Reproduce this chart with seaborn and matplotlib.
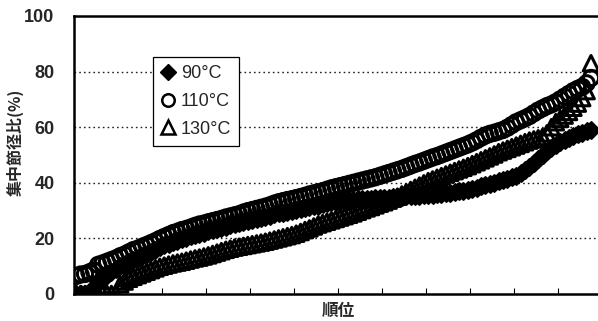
import numpy as np
import pandas as pd
import matplotlib
matplotlib.use("Agg")
import matplotlib.pyplot as plt
from matplotlib.lines import Line2D
import seaborn as sns

# ranked node-diameter ratios (%), sorted ascending for each drying temperature
temp_90 = [
    0, 0, 0, 0.5, 2.5, 4.5, 5.5, 6.8, 7.8, 9.0,
    10.0, 10.8, 11.6, 12.4, 13.0, 13.8, 14.5, 15.2, 16.0, 16.8,
    17.5, 18.0, 18.6, 19.2, 19.8, 20.3, 20.8, 21.3, 21.7, 22.1,
    22.5, 23.0, 23.4, 23.8, 24.2, 24.7, 25.1, 25.5, 25.9, 26.3,
    26.7, 27.0, 27.4, 27.8, 28.2, 28.6, 29.0, 29.3, 29.6, 29.9,
    30.3, 30.6, 30.9, 31.2, 31.5, 31.8, 32.2, 32.6, 33.0, 33.2,
    33.4, 33.6, 33.8, 33.9, 34.0, 34.1, 34.2, 34.3, 34.4, 34.5,
    34.6, 34.7, 34.8, 34.9, 35.0, 35.1, 35.2, 35.3, 35.4, 35.5,
    35.6, 35.7, 35.9, 36.1, 36.3, 36.4, 36.6, 36.9, 37.2, 37.5,
    37.9, 38.3, 38.7, 39.1, 39.5, 40.0, 40.5, 41.0, 41.5, 42.0,
    42.6, 43.4, 44.5, 45.8, 47.2, 48.6, 50.0, 51.4, 52.6, 53.7,
    54.6, 55.4, 56.2, 56.9, 57.5, 58.0, 58.6, 59.0,
]
temp_110 = [
    6.5, 7.0, 7.2, 7.8, 8.5, 10.5, 11.0, 11.6, 12.2, 12.8,
    13.6, 14.2, 15.0, 15.8, 16.3, 17.0, 17.6, 18.3, 19.0, 19.8,
    20.5, 21.2, 21.9, 22.4, 23.0, 23.4, 23.9, 24.5, 25.0, 25.3,
    25.8, 26.2, 26.6, 27.0, 27.5, 27.9, 28.3, 28.7, 29.3, 29.8,
    30.2, 30.6, 31.0, 31.4, 31.9, 32.5, 33.0, 33.4, 33.8, 34.1,
    34.5, 34.9, 35.3, 35.8, 36.2, 36.6, 37.0, 37.5, 38.0, 38.4,
    38.8, 39.2, 39.6, 40.0, 40.4, 40.8, 41.2, 41.6, 42.0, 42.5,
    43.0, 43.5, 44.0, 44.5, 45.0, 45.6, 46.2, 46.8, 47.3, 47.9,
    48.5, 49.1, 49.6, 50.2, 50.8, 51.4, 52.0, 52.6, 53.2, 53.8,
    54.5, 55.3, 56.2, 57.0, 57.6, 58.0, 58.5, 59.0, 59.8, 60.8,
    61.8, 62.5, 63.2, 64.0, 65.0, 66.0, 66.8, 67.6, 68.2, 69.0,
    70.0, 71.0, 72.0, 73.0, 73.8, 74.5, 75.8, 77.7,
]
temp_130 = [
    0, 0, 0, 0, 0, 0, 0, 0, 0, 0,
    3.5, 4.5, 5.5, 6.2, 6.8, 7.4, 8.0, 8.6, 9.2, 9.8,
    10.2, 10.6, 11.0, 11.3, 11.6, 12.0, 12.4, 12.8, 13.1, 13.5,
    13.9, 14.4, 14.9, 15.4, 15.9, 16.3, 16.7, 17.0, 17.3, 17.6,
    17.9, 18.2, 18.5, 18.8, 19.2, 19.6, 20.0, 20.4, 20.8, 21.2,
    21.7, 22.3, 23.0, 23.6, 24.3, 25.0, 25.5, 26.0, 26.5, 27.0,
    27.5, 28.0, 28.5, 29.0, 29.6, 30.2, 30.8, 31.3, 31.9, 32.5,
    33.0, 33.6, 34.3, 35.0, 35.8, 36.6, 37.4, 38.2, 39.0, 39.8,
    40.6, 41.2, 41.8, 42.4, 43.0, 43.6, 44.2, 44.8, 45.4, 46.0,
    46.7, 47.4, 48.1, 48.8, 49.5, 50.2, 51.0, 51.6, 52.2, 52.8,
    53.4, 54.0, 54.6, 55.2, 55.6, 56.0, 56.5, 57.8, 60.0, 61.8,
    63.0, 64.2, 65.5, 67.0, 68.5, 70.5, 73.0, 83.0,
]
series_labels = ["90°C", "110°C", "130°C"]
y_ticks = [0, 20, 40, 60, 80, 100]
n_slots = 120

sns.set_theme(style="white")
plt.rcParams["font.family"] = ["Liberation Sans", "Noto Sans CJK JP", "DejaVu Sans"]

fig = plt.figure(figsize=(5.98, 3.21), dpi=100)
ax = fig.add_axes([74 / 598, 27 / 321, 528 / 598, 278 / 321])

rank = np.arange(1, len(temp_90) + 1)
df = pd.DataFrame({"rank": rank, "t90": temp_90, "t110": temp_110,
                   "t130": temp_130})

# horizontal dotted gridlines
for v in y_ticks[1:-1]:
    ax.axhline(v, color="#222222", lw=1.0, ls=(0, (1.2, 2.2)), zorder=0)

sns.scatterplot(data=df, x="rank", y="t90", marker="D", s=75,
                color="black", edgecolor="black", linewidth=1.4, ax=ax,
                zorder=3)
sns.scatterplot(data=df, x="rank", y="t110", marker="o", s=120,
                facecolors="none", edgecolor="black", linewidth=2.2, ax=ax,
                zorder=3)
sns.scatterplot(data=df, x="rank", y="t130", marker="^", s=125,
                facecolors="none", edgecolor="black", linewidth=2.2, ax=ax,
                zorder=3)

ax.set_xlim(0.5, n_slots + 0.5)
ax.set_ylim(0, 100)
ax.set_yticks(y_ticks)
ax.set_yticklabels([str(v) for v in y_ticks], fontsize=13, fontweight="bold")
ax.set_xticks(np.arange(10, n_slots, 10) + 0.5)
ax.set_xticklabels([])
ax.tick_params(axis="x", direction="in", length=4, width=0.8, color="black",
               bottom=True)
ax.tick_params(axis="y", length=0, pad=14)

for side in ["left", "bottom", "top"]:
    ax.spines[side].set_visible(True)
    ax.spines[side].set_color("black")
    ax.spines[side].set_linewidth(1.8)
ax.spines["right"].set_visible(False)

ax.set_xlabel("順位", fontsize=12, fontweight="bold",
              family=["Noto Sans CJK JP", "DejaVu Sans"], labelpad=2)
ax.set_ylabel("集中節径比(%)", fontsize=11.5, fontweight="bold",
              family=["Noto Sans CJK JP", "DejaVu Sans"])
ax.yaxis.set_label_coords(-0.095, 0.545)

handles = [
    Line2D([], [], ls="none", marker="D", ms=8, mfc="black", mec="black"),
    Line2D([], [], ls="none", marker="o", ms=9, mfc="none", mec="black",
           mew=1.8),
    Line2D([], [], ls="none", marker="^", ms=10, mfc="none", mec="black",
           mew=1.8),
]
leg = ax.legend(handles, series_labels, loc="upper left",
                bbox_to_anchor=(153 / 598, 1 - 57 / 321),
                bbox_transform=fig.transFigure, borderaxespad=0,
                frameon=True, fancybox=False, framealpha=1,
                edgecolor="black", handlelength=0.8, handletextpad=0.3,
                labelspacing=0.6, borderpad=0.45,
                prop={"size": 13, "family": "Liberation Sans"})
leg.get_frame().set_linewidth(0.9)

fig.savefig("out.png", dpi=100)
